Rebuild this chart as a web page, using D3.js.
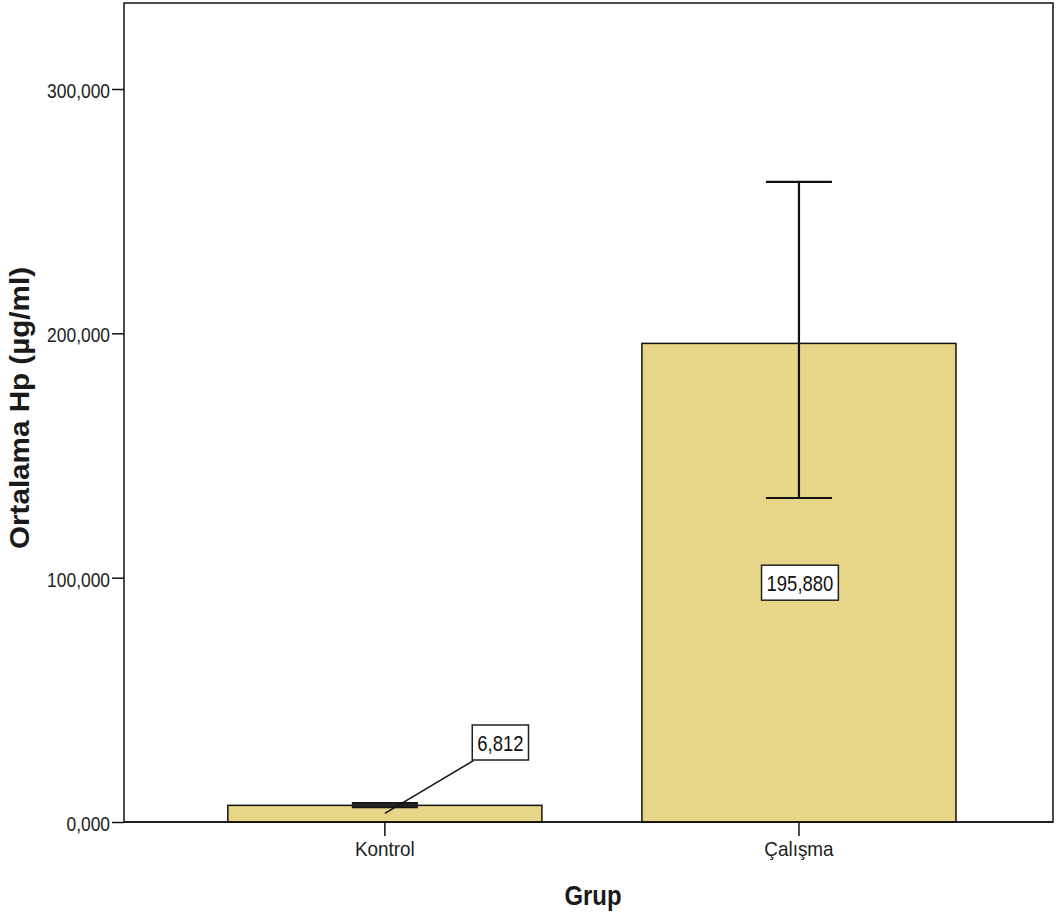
<!DOCTYPE html>
<html><head><meta charset="utf-8">
<script src="https://cdn.jsdelivr.net/npm/d3@7"></script>
<style>body{margin:0;background:#fff}</style>
</head><body>
<svg id="chart" width="1063" height="917"></svg>
<script>
const categories = ["Kontrol", "Çalışma"];
const means = [6.812, 195.880];
const errLow = [6.1, 132.6];
const errHigh = [7.7, 262.0];
const yTicks = [0, 100, 200, 300];
const xTitle = "Grup";
const yTitle = "Ortalama Hp (µg/ml)";

const svg = d3.select("#chart");
const m = {left:124, right:1053, top:3, bottom:822};
const tr = d3.formatLocale({decimal:",", thousands:".", grouping:[3], currency:["",""]});
const fmt = tr.format(".3f");

const x = d3.scaleBand().domain(categories).range([m.left, m.right])
  .paddingInner(0.2415).paddingOuter(0.2425).align(0.517);
const y = d3.scaleLinear().domain([0, 335.2]).range([m.bottom, m.top]);

const font = "'Liberation Sans', Arial, sans-serif";

// condense text horizontally to mimic a narrow face
function condense(sel, f){
  sel.each(function(){
    const w = this.getComputedTextLength();
    d3.select(this).attr("textLength", w*f).attr("lengthAdjust","spacingAndGlyphs");
  });
}

// frame
svg.append("rect").attr("x", m.left).attr("y", m.top).attr("width", m.right-m.left).attr("height", m.bottom-m.top)
  .attr("fill","#fff").attr("stroke","#111").attr("stroke-width",1.5);

// bars
svg.selectAll("rect.bar").data(categories).join("rect").attr("class","bar")
  .attr("x", d=>x(d)).attr("width", x.bandwidth())
  .attr("y", (d,i)=>y(means[i])).attr("height", (d,i)=>y(0)-y(means[i]))
  .attr("fill","#e7d687").attr("stroke","#111").attr("stroke-width",1.5);

// error bars
const capW = 66;
categories.forEach((c,i)=>{
  const cx = x(c)+x.bandwidth()/2;
  const g = svg.append("g").attr("stroke","#111").attr("stroke-width",2.2);
  g.append("line").attr("x1",cx).attr("x2",cx).attr("y1",y(errHigh[i])).attr("y2",y(errLow[i]));
  g.append("line").attr("x1",cx-capW/2).attr("x2",cx+capW/2).attr("y1",y(errHigh[i])).attr("y2",y(errHigh[i]));
  g.append("line").attr("x1",cx-capW/2).attr("x2",cx+capW/2).attr("y1",y(errLow[i])).attr("y2",y(errLow[i]));
  if (y(errLow[i]) - y(errHigh[i]) < 8) {
    g.append("rect").attr("x",cx-capW/2).attr("width",capW).attr("y",y(errHigh[i])).attr("height",y(errLow[i])-y(errHigh[i]))
      .attr("fill","#222").attr("stroke","none");
  }
});

// y axis
const yAxis = d3.axisLeft(y).tickValues(yTicks).tickFormat(fmt).tickSize(12).tickPadding(2);
const ya = svg.append("g").attr("transform",`translate(${m.left},0)`).call(yAxis);
ya.select(".domain").remove();
ya.selectAll("line").attr("stroke","#111").attr("stroke-width",1.5);
ya.selectAll("text").attr("font-family",font).attr("font-size",20).attr("fill","#222").attr("dy","0.42em")
  .call(condense, 0.87);

// x axis
const xAxis = d3.axisBottom(x).tickSize(14).tickPadding(5);
const xa = svg.append("g").attr("transform",`translate(0,${m.bottom})`).call(xAxis);
xa.select(".domain").remove();
xa.selectAll("line").attr("stroke","#111").attr("stroke-width",1.5);
xa.selectAll("text").attr("font-family",font).attr("font-size",21).attr("fill","#222")
  .call(condense, 0.9);

// axis line
svg.append("line").attr("x1",m.left).attr("x2",m.right).attr("y1",m.bottom).attr("y2",m.bottom).attr("stroke","#111").attr("stroke-width",1.5);

// titles
svg.append("text").attr("x", 593).attr("y", 905).attr("text-anchor","middle")
  .attr("font-family",font).attr("font-weight","bold").attr("font-size",28).attr("fill","#1a1a1a")
  .attr("textLength",57).attr("lengthAdjust","spacingAndGlyphs").text(xTitle);
svg.append("text").attr("transform",`translate(29,408) rotate(-90)`).attr("text-anchor","middle")
  .attr("font-family",font).attr("font-weight","bold").attr("font-size",27).attr("fill","#1a1a1a")
  .attr("textLength",282).attr("lengthAdjust","spacingAndGlyphs").text(yTitle);

// value labels
function label(cx, cy, txt){
  const g = svg.append("g");
  const t = g.append("text").attr("x",cx).attr("y",cy+8).attr("text-anchor","middle")
    .attr("font-family",font).attr("font-size",22).attr("fill","#111").text(txt);
  t.call(condense, 0.84);
  const w = +t.attr("textLength");
  g.insert("rect","text").attr("x",cx-(w+10)/2).attr("y",cy-17.5).attr("width",w+10).attr("height",35)
    .attr("fill","#fff").attr("stroke","#222").attr("stroke-width",1.5);
  return g;
}
// Kontrol: label offset with leader line
const k0 = x(categories[0])+x.bandwidth()/2;
svg.append("line").attr("x1",k0).attr("y1",y(means[0])+8).attr("x2",k0+89).attr("y2",y(means[0])-45)
  .attr("stroke","#111").attr("stroke-width",1.5);
label(k0+115.5, 742.5, fmt(means[0]));
// Çalışma: label centered in bar
const k1 = x(categories[1])+x.bandwidth()/2;
label(k1+1, y(means[1]/2), fmt(means[1]));
</script>
</body></html>
